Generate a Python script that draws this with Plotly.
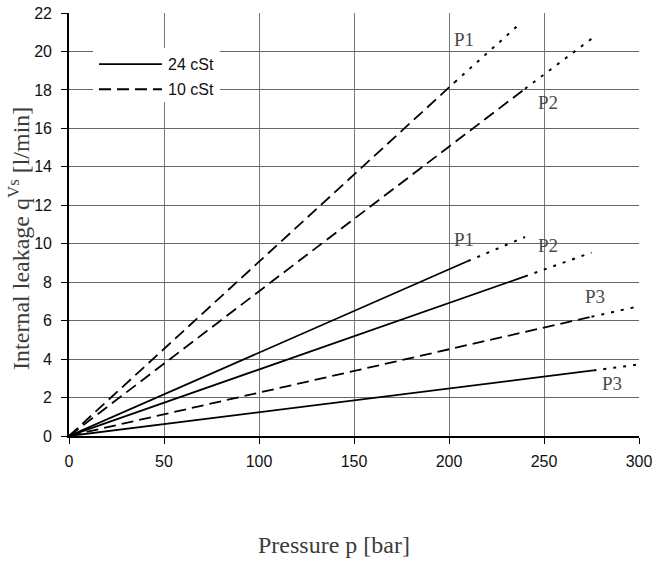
import plotly.graph_objects as go

# ---- data ----
pressure_end_24 = [210, 240, 276]          # end of measured (solid) part, 24 cSt: P1, P2, P3
leak_end_24 = [9.1, 8.3, 3.41]
pressure_ext_24 = [240, 275, 300]          # end of extrapolated (dotted) part
leak_ext_24 = [10.35, 9.54, 3.72]

pressure_end_10 = [203, 240, 275]          # 10 cSt: P1, P2, P3
leak_end_10 = [18.4, 18.06, 6.2]
pressure_ext_10 = [238, 275, 300]
leak_ext_10 = [21.5, 20.66, 6.75]

label_text = ["P1", "P2", "P1", "P2", "P3", "P3"]
label_x = [208, 252, 208, 252, 277, 286]
label_y = [20.6, 17.35, 10.2, 9.9, 7.25, 2.75]

x_ticks = [0, 50, 100, 150, 200, 250, 300]
y_ticks = [0, 2, 4, 6, 8, 10, 12, 14, 16, 18, 20, 22]

legend_names = ["24 cSt", "10 cSt"]

SOLID_W = 1.8
DASH = "12px,6px"
DOT = "3px,7px"

fig = go.Figure()


def add_series(ends_x, ends_y, ext_x, ext_y, dash):
    for ex, ey, xx, xy in zip(ends_x, ends_y, ext_x, ext_y):
        fig.add_trace(go.Scatter(x=[0, ex], y=[0, ey], mode="lines",
                                 line=dict(color="black", width=SOLID_W, dash=dash),
                                 showlegend=False, hoverinfo="skip"))
        fig.add_trace(go.Scatter(x=[ex, xx], y=[ey, xy], mode="lines",
                                 line=dict(color="black", width=2, dash=DOT),
                                 showlegend=False, hoverinfo="skip"))


add_series(pressure_end_24, leak_end_24, pressure_ext_24, leak_ext_24, "solid")
add_series(pressure_end_10, leak_end_10, pressure_ext_10, leak_ext_10, DASH)

serif = "Liberation Serif, Times New Roman, serif"
sans = "Liberation Sans, Arial, sans-serif"

annotations = []
for t, x, y in zip(label_text, label_x, label_y):
    annotations.append(dict(x=x, y=y, xref="x", yref="y", text=t, showarrow=False,
                            xanchor="center", yanchor="middle",
                            font=dict(family=serif, size=19, color="#4a4a4a")))

# axis titles
annotations.append(dict(x=0.4655, y=-0.257, xref="paper", yref="paper",
                        xanchor="center", yanchor="middle",
                        text="Pressure p [bar]",
                        showarrow=False, font=dict(family=serif, size=24, color="#3c3c3c")))
annotations.append(dict(x=-0.088, y=0.468, xref="paper", yref="paper", textangle=-90,
                        xanchor="center", yanchor="middle",
                        text="Internal leakage q<sup>Vs</sup> [l/min]",
                        showarrow=False, font=dict(family=serif, size=24, color="#3c3c3c")))

# legend (drawn manually to match the long sample lines)
annotations.append(dict(x=0.170, y=0.879, xref="paper", yref="paper", xanchor="left",
                        yanchor="middle", text=legend_names[0], showarrow=False,
                        font=dict(family=sans, size=16, color="#111")))
annotations.append(dict(x=0.170, y=0.820, xref="paper", yref="paper", xanchor="left",
                        yanchor="middle", text=legend_names[1], showarrow=False,
                        font=dict(family=sans, size=16, color="#111")))

shapes = [
    dict(type="rect", xref="paper", yref="paper", x0=0.042, x1=0.265, y0=0.789, y1=0.917,
         fillcolor="white", line=dict(width=0), layer="above"),
    dict(type="line", xref="paper", yref="paper", x0=0.0526, x1=0.163, y0=0.879, y1=0.879,
         line=dict(color="black", width=SOLID_W), layer="above"),
    dict(type="line", xref="paper", yref="paper", x0=0.0526, x1=0.163, y0=0.820, y1=0.820,
         line=dict(color="black", width=2, dash=DASH), layer="above"),
]

fig.update_layout(
    width=652, height=561,
    margin=dict(l=69, r=13, t=13, b=125, autoexpand=False),
    paper_bgcolor="white", plot_bgcolor="white",
    showlegend=False,
    annotations=annotations, shapes=shapes,
    xaxis=dict(range=[0, 300], tickvals=x_ticks, ticks="outside", ticklen=6,
               tickcolor="black", tickwidth=1.3, showline=True, linecolor="black", linewidth=1.6,
               showgrid=True, gridcolor="#777777", gridwidth=1.3, zeroline=False,
               automargin=False, ticklabeloverflow="allow",
               tickfont=dict(family=sans, size=16, color="#111"), ticklabelstandoff=4),
    yaxis=dict(range=[0, 22], tickvals=y_ticks, ticks="outside", ticklen=6,
               tickcolor="black", tickwidth=1.3, showline=True, linecolor="black", linewidth=1.6,
               showgrid=True, gridcolor="#666666", gridwidth=1.3, zeroline=False,
               automargin=False, ticklabeloverflow="allow",
               tickfont=dict(family=sans, size=16, color="#111"), ticklabelstandoff=6),
)

post = (
    "document.documentElement.style.margin='0';"
    "document.body.style.margin='0';"
    "var gd=document.querySelector('.plotly-graph-div');"
    "gd.style.position='fixed';gd.style.top='0px';gd.style.left='0px';"
)

fig.write_html("out.html", config={"displayModeBar": False}, post_script=post)
